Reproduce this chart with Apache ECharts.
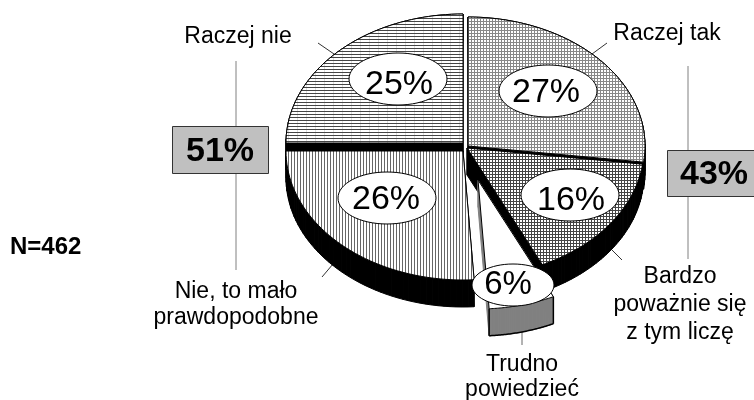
<!DOCTYPE html>
<html>
<head>
<meta charset="utf-8">
<title>N=462</title>
<style>
html, body { margin: 0; padding: 0; background: #fff; }
#chart { width: 754px; height: 400px; }
</style>
<script src="https://cdn.jsdelivr.net/npm/echarts@6/dist/echarts.min.js"></script>
</head>
<body>
<div id="chart"></div>
<script>
// dane
var categories = ['Raczej tak', 'Bardzo\npoważnie się\nz tym liczę', 'Trudno\npowiedzieć', 'Nie, to mało\nprawdopodobne', 'Raczej nie'];
var shares = [27, 16, 6, 26, 25];
var groupShares = [51, 43];
var sampleLabel = 'N=462';

/* kolejność rysowania plastrów */
var drawOrder = [4, 0, 3, 1, 2];

/* wygląd plastrów, w kolejności categories */
var sliceLook = [
    {cx: 468, cy: 146, wall: '#000', pattern: 'grid', labelX: 548, labelY: 91, textX: 546, textY: 93},
    {cx: 467, cy: 148, wall: '#000', pattern: 'darkGrid', labelX: 570, labelY: 195, textX: 571, textY: 201},
    {cx: 478, cy: 180, wall: '#808080', pattern: 'white', labelX: 513, labelY: 285, textX: 508, textY: 285, small: true},
    {cx: 463, cy: 151, wall: '#000', pattern: 'vertical', labelX: 387, labelY: 198, textX: 386, textY: 200},
    {cx: 463, cy: 143, wall: '#000', pattern: 'horizontal', labelX: 398, labelY: 79, textX: 399, textY: 85}
];

var RX = 177, RY = 129, DEPTH = 27;

function makePattern(size, draw) {
    var canvas = document.createElement('canvas');
    canvas.width = canvas.height = size;
    var ctx = canvas.getContext('2d');
    ctx.fillStyle = '#fff';
    ctx.fillRect(0, 0, size, size);
    draw(ctx);
    return {image: canvas, repeat: 'repeat'};
}

var patterns = {
    white: '#fff',
    horizontal: makePattern(9, function(ctx) {
        ctx.fillStyle = '#ddd';
        ctx.fillRect(0, 0, 1, 9);
        ctx.fillStyle = '#444';
        ctx.fillRect(0, 0, 9, 1);
        ctx.fillRect(0, 3, 9, 1);
        ctx.fillRect(0, 6, 9, 1);
    }),
    vertical: makePattern(9, function(ctx) {
        ctx.fillStyle = '#666';
        ctx.fillRect(0, 0, 1, 9);
        ctx.fillRect(3, 0, 1, 9);
        ctx.fillRect(6, 0, 1, 9);
    }),
    grid: makePattern(3, function(ctx) {
        ctx.fillStyle = '#888';
        ctx.fillRect(0, 0, 1, 3);
        ctx.fillRect(0, 0, 3, 1);
    }),
    darkGrid: makePattern(3, function(ctx) {
        ctx.fillStyle = '#444';
        ctx.fillRect(0, 0, 1, 3);
        ctx.fillRect(0, 0, 3, 1);
    })
};

/* kąty początku i końca plastra, zgodnie z ruchem wskazówek od godziny 12 */
function sliceAngles(index) {
    var total = 0, before = 0, i;
    for (i = 0; i < shares.length; i++) {
        total += shares[i];
        if (i < index) {
            before += shares[i];
        }
    }
    return [before / total * Math.PI * 2, (before + shares[index]) / total * Math.PI * 2];
}

function slicePoints(look, angles) {
    var points = [[look.cx, look.cy]], steps = 48, i, a;
    for (i = 0; i <= steps; i++) {
        a = angles[0] + (angles[1] - angles[0]) * i / steps;
        points.push([look.cx + RX * Math.sin(a), look.cy - RY * Math.cos(a)]);
    }
    return points;
}

function renderSlice(params, api) {
    var index = api.value(0);
    var look = sliceLook[index];
    var points = slicePoints(look, sliceAngles(index));
    var children = [], i, p, q;

    // ściana boczna
    for (i = 0; i < points.length; i++) {
        p = points[i];
        q = points[(i + 1) % points.length];
        children.push({
            type: 'polygon',
            shape: {points: [p, q, [q[0], q[1] + DEPTH], [p[0], p[1] + DEPTH]]},
            style: {fill: look.wall, stroke: look.wall, lineWidth: 1}
        });
    }
    if (look.wall !== '#000') {
        // obrys dolnej krawędzi jasnej ściany
        children.push({
            type: 'polyline',
            shape: {points: points.slice(1).map(function(pt) {
                return [pt[0], pt[1] + DEPTH];
            })},
            style: {fill: null, stroke: '#000', lineWidth: 1.5}
        });
        children.push({
            type: 'line',
            shape: {x1: points[1][0], y1: points[1][1], x2: points[1][0], y2: points[1][1] + DEPTH},
            style: {stroke: '#000', lineWidth: 1.5}
        });
        children.push({
            type: 'line',
            shape: {x1: points[points.length - 1][0], y1: points[points.length - 1][1], x2: points[points.length - 1][0], y2: points[points.length - 1][1] + DEPTH},
            style: {stroke: '#000', lineWidth: 1.5}
        });
    }

    // wierzch
    children.push({
        type: 'polygon',
        shape: {points: points},
        style: {fill: patterns[look.pattern], stroke: '#000', lineWidth: 1}
    });
    return {type: 'group', children: children};
}

function renderBubble(params, api) {
    var index = api.value(0);
    var look = sliceLook[index];
    return {
        type: 'group',
        children: [
            {
                type: 'ellipse',
                shape: {cx: look.labelX, cy: look.labelY, rx: look.small ? 41 : 49, ry: look.small ? 21 : 26},
                style: {fill: '#fff', stroke: '#000', lineWidth: 1}
            },
            {
                type: 'text',
                style: {
                    x: look.textX,
                    y: look.textY,
                    text: shares[index] + '%',
                    fill: '#000',
                    font: (look.small ? '33px' : '34px') + ' "Liberation Sans", Arial, sans-serif',
                    align: 'center',
                    verticalAlign: 'middle'
                }
            }
        ]
    };
}

function caption(text, x, y, lineHeight) {
    return {
        type: 'text',
        silent: true,
        style: {
            x: x,
            y: y,
            text: text,
            fill: '#000',
            font: '23px "Liberation Sans", Arial, sans-serif',
            lineHeight: lineHeight || 27,
            align: 'center',
            verticalAlign: 'middle'
        }
    };
}

function leader(x1, y1, x2, y2, color) {
    return {
        type: 'line',
        silent: true,
        shape: {x1: x1, y1: y1, x2: x2, y2: y2},
        style: {stroke: color || '#333', lineWidth: 1}
    };
}

function groupBox(text, x, y, width, height) {
    return [
        {
            type: 'rect',
            silent: true,
            shape: {x: x + 0.5, y: y + 0.5, width: width, height: height},
            style: {fill: '#c0c0c0', stroke: '#333', lineWidth: 1}
        },
        {
            type: 'text',
            silent: true,
            style: {
                x: x + width / 2,
                y: y + height / 2 + 2,
                text: text,
                fill: '#000',
                font: 'bold 34px "Liberation Sans", Arial, sans-serif',
                align: 'center',
                verticalAlign: 'middle'
            }
        }
    ];
}

var chartInstance = echarts.init(document.getElementById('chart'));
var annotations = [
    leader(236, 61, 236, 270, '#808080'),
    leader(688, 66, 688, 259, '#808080'),
    leader(318, 43, 334, 54),
    leader(607, 43, 592, 54),
    leader(322, 277, 333, 264),
    leader(622, 260, 612, 250),
    leader(522, 345, 522, 332, '#666'),
    caption(categories[4], 238, 37),
    caption(categories[0], 667, 34),
    caption(categories[1], 680, 305, 28),
    caption(categories[2], 522, 377, 25),
    caption(categories[3], 236, 305, 26),
    {
        type: 'text',
        silent: true,
        style: {
            x: 10,
            y: 247,
            text: sampleLabel,
            fill: '#000',
            font: 'bold 24px "Liberation Sans", Arial, sans-serif',
            verticalAlign: 'middle'
        }
    }
].concat(groupBox(groupShares[0] + '%', 172, 126, 96, 47), groupBox(groupShares[1] + '%', 667, 150, 94, 46));

var option = {
    animation: false,
    backgroundColor: '#fff',
    graphic: {elements: annotations},
    series: [
        {
            type: 'custom',
            coordinateSystem: 'none',
            silent: true,
            renderItem: renderSlice,
            data: drawOrder.map(function(i) { return [i, shares[i]]; }),
            z: 1
        },
        {
            type: 'custom',
            coordinateSystem: 'none',
            silent: true,
            renderItem: renderBubble,
            data: drawOrder.map(function(i) { return [i, shares[i]]; }),
            z: 2
        }
    ]
};

chartInstance.setOption(option);
</script>
</body>
</html>
